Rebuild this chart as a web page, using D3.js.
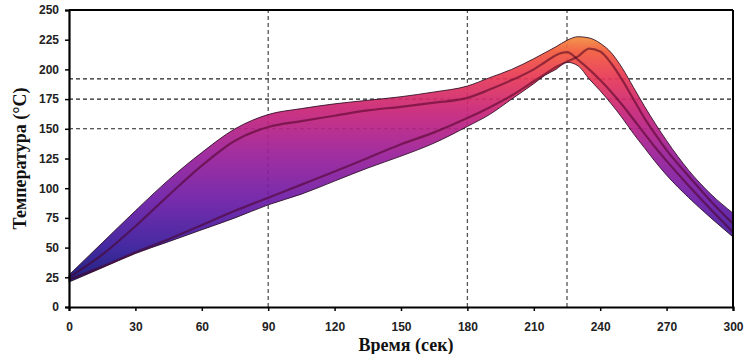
<!DOCTYPE html>
<html><head><meta charset="utf-8">
<script src="https://cdn.jsdelivr.net/npm/d3@7"></script>
<style>body{margin:0;background:#fff}svg{display:block}</style>
</head><body>
<script>
// ---- data ----
const times      = [0,15,30,45,60,75,90,105,120,135,150,165,180,190,200,210,215,220,225,230,235,240,245,250,255,260,265,270,280,290,300];
const upperBound = [27,54,81,107,130,150,162,167,171,174,177,181,186,193,200,209,214,219,224.5,227.5,226.5,222,214,201,185,169,154,140,115,95,79];
const lowerBound = [21,33,45,55,65,75,86,95,106,117,127,138,152,162,175,188,195,200,206,203,192,182,171,159,146,134,122,111,92,75,59];
const profileA   = [25,44,68,94,119,140,151.5,156.5,161,165.5,168.5,172,176,183,191,200,206,212,214.5,208,200,191,181,170,158,146,134,123,102,82,63];
const profileB   = [23,34,46,57,69,81,92,103,114,125.5,137,147,159,168,178,190,196,202,206.5,211,217.5,215,205,191,175,159,145,132,110,89,70];
const xTicks = [0,30,60,90,120,150,180,210,240,270,300];
const yTicks = [0,25,50,75,100,125,150,175,200,225,250];
const refTimes = [90,180,225];
const refTemps = [150,175,192];
const xTitle = "Время (сек)";
const yTitle = "Температура (°C)";

// ---- layout ----
const W = 744, H = 354;
const m = {l:69, r:11, t:10, b:47};
const svg = d3.select("body").append("svg").attr("width",W).attr("height",H);
const x = d3.scaleLinear().domain([0,300]).range([m.l, W-m.r]);
const y = d3.scaleLinear().domain([0,250]).range([H-m.b, m.t]);

const rows = times.map((t,i)=>({t, hi:upperBound[i], lo:lowerBound[i], a:profileA[i], b:profileB[i]}));

// gradient
const defs = svg.append("defs");
const grad = defs.append("linearGradient").attr("id","heat")
  .attr("gradientUnits","userSpaceOnUse")
  .attr("x1",0).attr("x2",0).attr("y1",y(20)).attr("y2",y(228));
const stops = [[20,"#0c1274"],[50,"#361a9a"],[90,"#6c1ca6"],[130,"#9c1f98"],[165,"#c82478"],[195,"#e83a54"],[215,"#f25a3c"],[228,"#f2923e"]];
stops.forEach(([v,c])=>grad.append("stop").attr("offset",(v-20)/(228-20)).attr("stop-color",c));

// dashed reference lines
const g = svg.append("g");
g.selectAll(".hr").data(refTemps).join("line")
  .attr("x1",x(0)).attr("x2",x(300)).attr("y1",d=>y(d)).attr("y2",d=>y(d))
  .attr("stroke","#222").attr("stroke-width",1.1).attr("stroke-dasharray","4,3");
g.selectAll(".vr").data(refTimes).join("line")
  .attr("y1",y(0)).attr("y2",y(250)).attr("x1",d=>x(d)).attr("x2",d=>x(d))
  .attr("stroke","#555").attr("stroke-width",1.3).attr("stroke-dasharray","4,3");

// band
const area = d3.area().x(d=>x(d.t)).y0(d=>y(d.lo)).y1(d=>y(d.hi)).curve(d3.curveMonotoneX);
svg.append("path").datum(rows).attr("d",area)
  .attr("fill","url(#heat)").attr("fill-opacity",0.93)
  .attr("stroke","#2a0c22").attr("stroke-width",1).attr("stroke-opacity",0.85);

// inner profile lines
const lineA = d3.line().x(d=>x(d.t)).y(d=>y(d.a)).curve(d3.curveMonotoneX);
const lineB = d3.line().x(d=>x(d.t)).y(d=>y(d.b)).curve(d3.curveMonotoneX);
[lineA,lineB].forEach(l=>svg.append("path").datum(rows).attr("d",l)
  .attr("fill","none").attr("stroke","#4a0020").attr("stroke-opacity",0.55).attr("stroke-width",2.2));

// frame
svg.append("line").attr("x1",x(0)).attr("x2",x(300)).attr("y1",y(250)).attr("y2",y(250)).attr("stroke","#000").attr("stroke-width",2);
svg.append("line").attr("x1",x(300)).attr("x2",x(300)).attr("y1",y(0)).attr("y2",y(250)).attr("stroke","#000").attr("stroke-width",2);

// axes
const xAxis = d3.axisBottom(x).tickValues(xTicks).tickSize(4).tickPadding(11).tickFormat(d3.format("d"));
const yAxis = d3.axisLeft(y).tickValues(yTicks).tickSize(4).tickPadding(6).tickFormat(d3.format("d"));
const gx = svg.append("g").attr("transform",`translate(0,${y(0)})`).call(xAxis);
const gy = svg.append("g").attr("transform",`translate(${x(0)},0)`).call(yAxis);
[gx,gy].forEach(ax=>{
  ax.select(".domain").attr("stroke","#000").attr("stroke-width",2.2);
  ax.selectAll(".tick line").attr("stroke","#000").attr("stroke-width",1.5);
  ax.selectAll("text").attr("font-family","'Liberation Sans', Arial, sans-serif")
    .attr("font-weight","bold").attr("font-size",12).attr("fill","#222");
});

// titles
svg.append("text").attr("x",(x(0)+x(300))/2+5).attr("y",351).attr("text-anchor","middle")
  .attr("font-family","'Liberation Serif','Times New Roman',serif").attr("font-weight","bold")
  .attr("font-size",18).attr("fill","#111").text(xTitle);
svg.append("text").attr("transform",`translate(26,${(y(0)+y(250))/2}) rotate(-90)`).attr("text-anchor","middle")
  .attr("font-family","'Liberation Serif','Times New Roman',serif").attr("font-weight","bold")
  .attr("font-size",18).attr("fill","#111").text(yTitle);
</script>
</body></html>
